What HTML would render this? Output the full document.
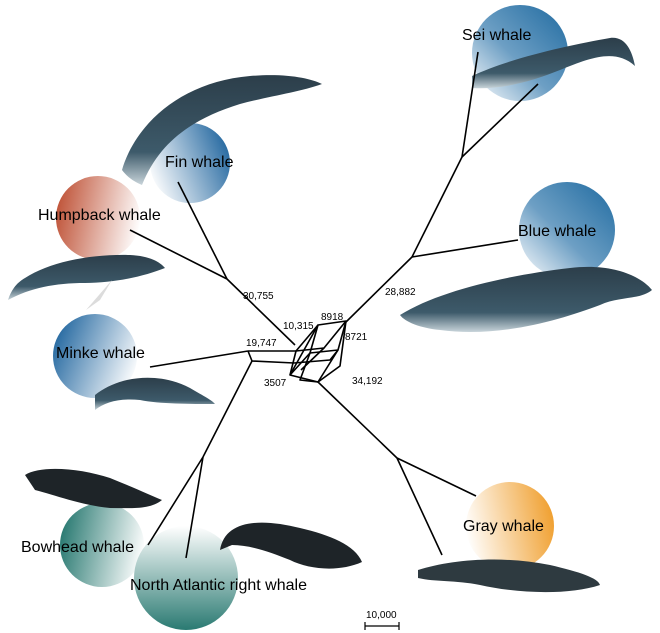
<!DOCTYPE html>
<html><head><meta charset="utf-8"><style>
html,body{margin:0;padding:0;background:#fff;}
svg{display:block;font-family:"Liberation Sans",Arial,sans-serif;}
</style></head><body>
<svg width="660" height="633" viewBox="0 0 660 633" xmlns="http://www.w3.org/2000/svg">
<defs>
<linearGradient id="gB" x1="1" y1="0" x2="0" y2="1"><stop offset="0" stop-color="#1f6aa0"/><stop offset="0.55" stop-color="#6d9fc4"/><stop offset="1" stop-color="#fff"/></linearGradient>
<linearGradient id="gFin" x1="1" y1="0.3" x2="0" y2="0.7"><stop offset="0" stop-color="#2468a0"/><stop offset="1" stop-color="#fff"/></linearGradient>
<linearGradient id="gMinke" x1="0" y1="0.3" x2="1" y2="0.7"><stop offset="0" stop-color="#2468a0"/><stop offset="1" stop-color="#fff"/></linearGradient>
<linearGradient id="gHump" x1="0" y1="0.4" x2="1" y2="0.6"><stop offset="0" stop-color="#c0553a"/><stop offset="1" stop-color="#fff"/></linearGradient>
<linearGradient id="gGray" x1="1" y1="0.4" x2="0" y2="0.6"><stop offset="0" stop-color="#f0a030"/><stop offset="1" stop-color="#fff"/></linearGradient>
<linearGradient id="gBow" x1="0" y1="0.4" x2="1" y2="0.6"><stop offset="0" stop-color="#2a7a72"/><stop offset="1" stop-color="#fff"/></linearGradient>
<linearGradient id="gNA" x1="0" y1="1" x2="0" y2="0"><stop offset="0" stop-color="#2a7a72"/><stop offset="1" stop-color="#fff"/></linearGradient>
<linearGradient id="gW" x1="0" y1="0" x2="0" y2="1"><stop offset="0" stop-color="#2c3e4a"/><stop offset="0.7" stop-color="#3d5a6a"/><stop offset="1" stop-color="#c8d4da"/></linearGradient>
</defs>

<!-- circles -->
<circle cx="190" cy="163" r="40" fill="url(#gFin)"/>
<circle cx="98" cy="218" r="42" fill="url(#gHump)"/>
<circle cx="95" cy="356" r="42" fill="url(#gMinke)"/>
<circle cx="520" cy="53" r="48" fill="url(#gB)"/>
<circle cx="567" cy="230" r="48" fill="url(#gB)"/>
<circle cx="510" cy="526" r="44" fill="url(#gGray)"/>
<circle cx="102" cy="545" r="42" fill="url(#gBow)"/>
<circle cx="186" cy="578" r="52" fill="url(#gNA)"/>

<!-- whales -->
<path d="M122,170 C135,125 180,82 250,76 C285,73 310,78 322,84 C300,92 270,96 240,104 C195,118 160,140 142,185 C135,182 128,178 122,170 Z" fill="url(#gW)"/>
<path d="M8,300 C12,288 18,282 25,278 C50,262 90,254 130,255 C150,256 160,262 165,268 C145,276 115,283 85,283 C55,283 30,288 8,300 Z" fill="url(#gW)"/>
<path d="M86,310 L112,280 L100,300 Z" fill="#dcdcdc"/>
<path d="M95,395 C120,375 160,372 190,388 C200,394 212,400 215,404 C190,404 160,404 140,400 C120,398 105,402 95,410 Z" fill="url(#gW)"/>
<path d="M472,76 C510,58 570,45 610,38 C625,36 632,50 635,66 C615,48 590,58 560,70 C530,82 500,90 472,88 Z" fill="url(#gW)"/>
<path d="M400,315 C440,290 510,275 570,268 C610,263 640,275 652,290 C640,300 620,296 600,305 C560,320 500,338 440,330 C420,328 405,322 400,315 Z" fill="url(#gW)"/>
<path d="M418,570 C450,560 500,555 550,565 C580,572 598,578 600,585 C570,595 520,594 480,585 C455,580 435,582 418,578 Z" fill="#2e3a40"/>
<path d="M25,475 C40,465 80,468 110,478 C130,486 150,495 162,500 C150,510 130,508 110,508 C80,505 55,495 35,490 Z" fill="#1e2428"/>
<path d="M220,550 C225,520 260,518 300,528 C330,535 355,545 362,562 C340,572 310,570 290,560 C270,552 250,545 232,545 Z" fill="#1e2428"/>

<!-- tree lines -->
<g stroke="#000" stroke-width="1.6" fill="none" stroke-linejoin="round">
<line x1="227" y1="279" x2="295" y2="345"/>
<line x1="227" y1="279" x2="178" y2="182"/>
<line x1="227" y1="279" x2="130" y2="230"/>
<line x1="346" y1="322" x2="412" y2="257"/>
<line x1="412" y1="257" x2="462" y2="157"/>
<line x1="412" y1="257" x2="518" y2="240"/>
<line x1="462" y1="157" x2="478" y2="52"/>
<line x1="462" y1="157" x2="538" y2="84"/>
<line x1="150" y1="367" x2="248" y2="351"/>
<line x1="248" y1="351" x2="296" y2="351"/>
<line x1="252" y1="361" x2="294" y2="363"/>
<line x1="248" y1="351" x2="252" y2="361"/>
<line x1="252" y1="361" x2="203" y2="457"/>
<line x1="203" y1="457" x2="148" y2="545"/>
<line x1="203" y1="457" x2="186" y2="558"/>
<line x1="318" y1="382" x2="397" y2="458"/>
<line x1="397" y1="458" x2="442" y2="555"/>
<line x1="397" y1="458" x2="476" y2="496"/>
<path d="M318,325 L346,321 L338,350 L310,353 Z"/>
<path d="M296,351 L324,348 L346,321"/>
<path d="M296,351 L290,375 L318,382 L340,366 L346,321"/>
<path d="M290,375 L318,325"/>
<path d="M296,351 L318,325"/>
<path d="M294,363 L330,360 L338,350"/>
<path d="M301,370 L324,348"/>
<path d="M310,353 L300,380 L318,382"/>
<path d="M318,382 L338,350"/>
<path d="M290,375 L310,353"/>
</g>

<!-- scale bar -->
<g stroke="#000" stroke-width="1.2"><line x1="365" y1="626" x2="399" y2="626"/><line x1="365" y1="622" x2="365" y2="630"/><line x1="399" y1="622" x2="399" y2="630"/></g>
<text x="366" y="618" font-size="10">10,000</text>

<g font-size="10" fill="#000">
<text x="243" y="299">30,755</text>
<text x="283" y="329">10,315</text>
<text x="321" y="320">8918</text>
<text x="345" y="340">8721</text>
<text x="246" y="346">19,747</text>
<text x="264" y="386">3507</text>
<text x="385" y="295">28,882</text>
<text x="352" y="384">34,192</text>
</g>
<g font-size="16" fill="#000">
<text x="165" y="167">Fin whale</text>
<text x="38" y="220">Humpback whale</text>
<text x="56" y="358">Minke whale</text>
<text x="462" y="40">Sei whale</text>
<text x="518" y="236">Blue whale</text>
<text x="463" y="531">Gray whale</text>
<text x="21" y="552">Bowhead whale</text>
<text x="130" y="590">North Atlantic right whale</text>
</g>
</svg>
</body></html>
